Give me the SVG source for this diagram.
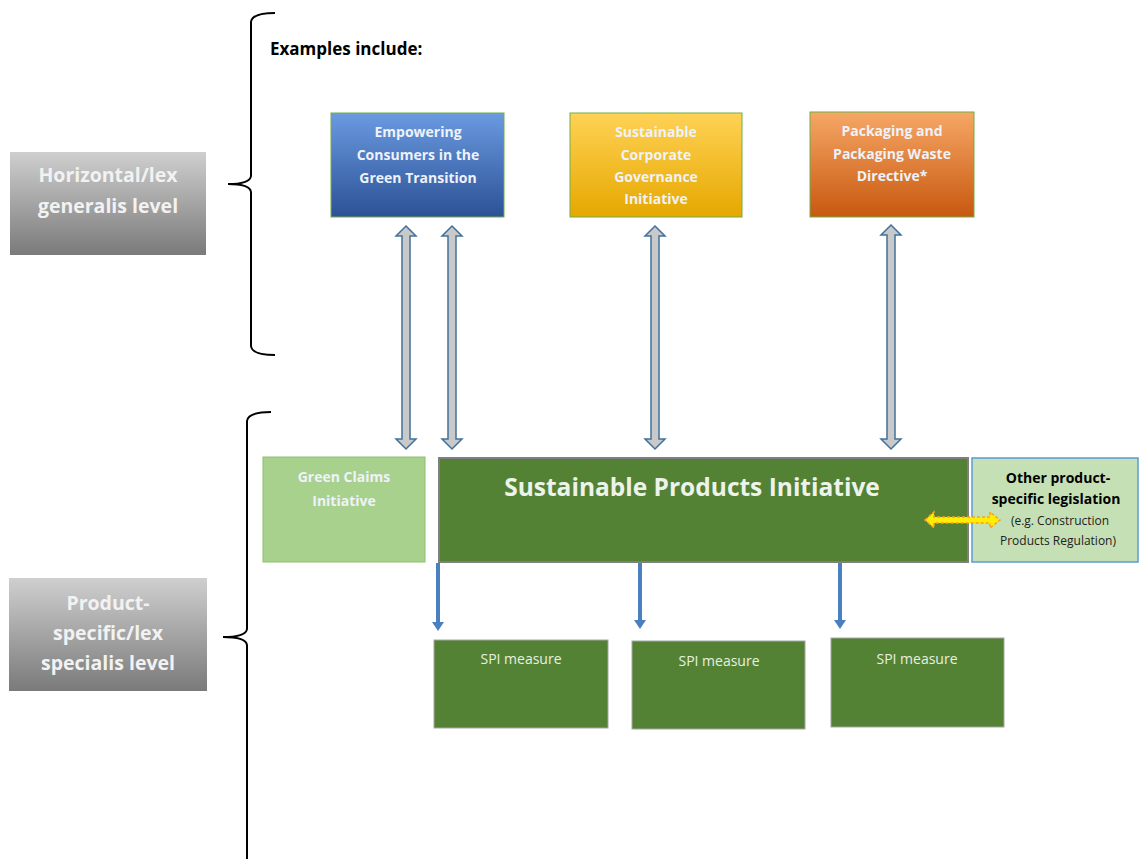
<svg xmlns="http://www.w3.org/2000/svg" width="1139" height="859" viewBox="0 0 1139 859">
<defs>
<linearGradient id="gGray" x1="0" y1="0" x2="0" y2="1"><stop offset="0" stop-color="#cfcfcf"/><stop offset="1" stop-color="#7a7a7a"/></linearGradient>
<linearGradient id="gBlue" x1="0" y1="0" x2="0" y2="1"><stop offset="0" stop-color="#6a9ae0"/><stop offset="1" stop-color="#2c5196"/></linearGradient>
<linearGradient id="gYellow" x1="0" y1="0" x2="0" y2="1"><stop offset="0" stop-color="#ffd255"/><stop offset="1" stop-color="#e6a800"/></linearGradient>
<linearGradient id="gOrange" x1="0" y1="0" x2="0" y2="1"><stop offset="0" stop-color="#f6a766"/><stop offset="1" stop-color="#c8580f"/></linearGradient>
</defs>
<style>
.lvl{font-family:"Open Sans","Liberation Sans",sans-serif;font-weight:bold;font-size:19.5px;fill:#f2f2f2;text-anchor:middle}
.top{font-family:"Open Sans","Liberation Sans",sans-serif;font-weight:bold;font-size:14px;fill:#eef2fa;text-anchor:middle}
.brace{fill:none;stroke:#000;stroke-width:2}
.dbl{fill:#c9c9c9;stroke:#41719c;stroke-width:1.5}
.down{stroke:#4a7fc0;stroke-width:4;fill:none}
.spi{fill:#548235;stroke:#a5a5a5;stroke-width:1}
.spit{font-family:"Open Sans","Liberation Sans",sans-serif;font-size:14px;fill:#e8f0e0;text-anchor:middle}
.oth{font-family:"Open Sans","Liberation Sans",sans-serif;text-anchor:middle}
</style>
<rect width="1139" height="859" fill="#fff"/>
<g id="level-horizontal">
<rect x="10" y="152" width="196" height="103" fill="url(#gGray)"/>
<text class="lvl" x="108" y="182">Horizontal/lex</text>
<text class="lvl" x="108" y="213">generalis level</text>
</g>
<g id="level-product">
<rect x="9" y="578" width="198" height="113" fill="url(#gGray)"/>
<text class="lvl" x="108" y="610">Product-</text>
<text class="lvl" x="108" y="640">specific/lex</text>
<text class="lvl" x="108" y="670">specialis level</text>
</g>
<g id="braces">
<path class="brace" d="M275,13 Q252,13 251,22 L251,176 Q250,184 228,184 Q250,184 251,192 L251,346 Q252,355 275,355"/>
<path class="brace" d="M271,412 Q248,412 247,421 L247,629 Q246,637 223,637 Q246,637 247,645 L247,859"/>
</g>
<text x="270" y="55" font-family="'Open Sans','Liberation Sans',sans-serif" font-weight="bold" font-size="17" fill="#000">Examples include:</text>
<g id="node-empowering">
<rect x="331" y="113" width="173" height="104" fill="url(#gBlue)" stroke="#70ad47" stroke-width="1"/>
<text class="top" x="418" y="137">Empowering</text>
<text class="top" x="418" y="160">Consumers in the</text>
<text class="top" x="418" y="183">Green Transition</text>
</g>
<g id="node-corporate">
<rect x="570" y="113" width="172" height="104" fill="url(#gYellow)" stroke="#70ad47" stroke-width="1"/>
<text class="top" x="656" y="137" fill="#fff5d0">Sustainable</text>
<text class="top" x="656" y="160" fill="#fff5d0">Corporate</text>
<text class="top" x="656" y="182" fill="#fff5d0">Governance</text>
<text class="top" x="656" y="204" fill="#fff5d0">Initiative</text>
</g>
<g id="node-packaging">
<rect x="810" y="112" width="164" height="105" fill="url(#gOrange)" stroke="#70ad47" stroke-width="1"/>
<text class="top" x="892" y="136">Packaging and</text>
<text class="top" x="892" y="159">Packaging Waste</text>
<text class="top" x="892" y="181">Directive*</text>
</g>
<g id="node-green-claims">
<rect x="263" y="457" width="162" height="105" fill="#a9d18e" stroke="#8fbf6f" stroke-width="1"/>
<text class="top" x="344" y="482" fill="#eef6e8" font-size="15">Green Claims</text>
<text class="top" x="344" y="506" fill="#eef6e8" font-size="15">Initiative</text>
</g>
<g id="node-spi">
<rect x="439" y="458" width="529" height="104" fill="#548235" stroke="#7f7f7f" stroke-width="2"/>
<text x="692" y="496" font-family="'Open Sans','Liberation Sans',sans-serif" font-weight="bold" font-size="24.5" fill="#eef3ea" text-anchor="middle">Sustainable Products Initiative</text>
</g>
<g id="node-other">
<rect x="972" y="458" width="166" height="104" fill="#c5e0b4" stroke="#5b9bd5" stroke-width="1.5"/>
<text class="oth" x="1058" y="483" font-weight="bold" font-size="14" fill="#000">Other product-</text>
<text class="oth" x="1056" y="504" font-weight="bold" font-size="14" fill="#000">specific legislation</text>
<text class="oth" x="1060" y="525" font-size="12" fill="#222">(e.g. Construction</text>
<text class="oth" x="1058" y="545" font-size="12" fill="#222">Products Regulation)</text>
</g>
<g id="node-spi-measure-1">
<rect class="spi" x="434" y="640" width="174" height="88"/>
<text class="spit" x="521" y="664">SPI measure</text>
</g>
<g id="node-spi-measure-2">
<rect class="spi" x="632" y="641" width="173" height="88"/>
<text class="spit" x="719" y="666">SPI measure</text>
</g>
<g id="node-spi-measure-3">
<rect class="spi" x="831" y="638" width="173" height="89"/>
<text class="spit" x="917" y="664">SPI measure</text>
</g>
<g id="connectors">
<path class="dbl" d="M406,226 L416,236 L410,236 L410,439 L416,439 L406,449 L396,439 L402,439 L402,236 L396,236 Z"/>
<path class="dbl" d="M452,226 L462,236 L456,236 L456,439 L462,439 L452,449 L442,439 L448,439 L448,236 L442,236 Z"/>
<path class="dbl" d="M655,226 L665,236 L659,236 L659,439 L665,439 L655,449 L645,439 L651,439 L651,236 L645,236 Z"/>
<path class="dbl" d="M891,225 L901,235 L895,235 L895,439 L901,439 L891,449 L881,439 L887,439 L887,235 L881,235 Z"/>
<path class="down" d="M438,563 L438,624"/>
<path d="M432,622 L444,622 L438,631 Z" fill="#4a7fc0"/>
<path class="down" d="M640,563 L640,622"/>
<path d="M634,620 L646,620 L640,629 Z" fill="#4a7fc0"/>
<path class="down" d="M840,563 L840,622"/>
<path d="M834,620 L846,620 L840,629 Z" fill="#4a7fc0"/>
<path d="M925,520 L934,512 L934,517 L990,517 L990,512 L1000,520 L990,528 L990,523 L934,523 L934,528 Z" fill="#ffee00" stroke="#f5a020" stroke-width="1.5" stroke-dasharray="3 2"/>
</g>
</svg>
